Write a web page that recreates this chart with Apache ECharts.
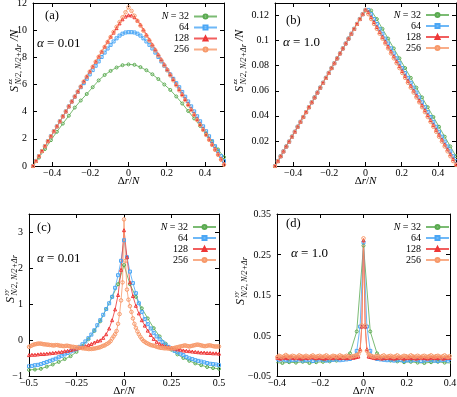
<!DOCTYPE html>
<html>
<head>
<meta charset="utf-8">
<script src="https://cdn.jsdelivr.net/npm/echarts@6/dist/echarts.min.js"></script>
<style>
  body { margin: 0; background: #fff; }
  .panel { position: absolute; }
  .tick { position: absolute; font: 10px "Liberation Serif", serif; line-height: 10px; color: #000;
          white-space: nowrap; transform: translate(-100%, -50%); z-index: 5; }
</style>
</head>
<body>
<div id="pa" class="panel" style="left:0;top:0;width:228px;height:198px"></div>
<div id="pb" class="panel" style="left:228px;top:0;width:229px;height:198px"></div>
<div id="pc" class="panel" style="left:0;top:198px;width:228px;height:199px"></div>
<div id="pd" class="panel" style="left:228px;top:198px;width:229px;height:199px"></div>
<script>
// series names and tick labels
const sizes = ['N = 32', '64', '128', '256'];
const xTicksAB = [-0.4, -0.2, 0, 0.2, 0.4];
const yTicksA = [0, 2, 4, 6, 8, 10, 12];
const yTicksB = [0.02, 0.04, 0.06, 0.08, 0.1, 0.12];
const xTicksC = [-0.5, -0.25, 0, 0.25, 0.5];
const yTicksC = [-1, 0, 1, 2, 3];
const xTicksD = [-0.4, -0.2, 0, 0.2, 0.4];
const yTicksD = [-0.05, 0.05, 0.15, 0.25, 0.35];

// (a) S^zz / N, alpha = 0.01  (values on a uniform grid from -0.5 to 0.5)
const aN32 = [0, 0.62, 1.25, 1.9, 2.52, 3.12, 3.7, 4.3, 4.82, 5.3, 5.8, 6.3, 6.7, 7.0, 7.25, 7.42, 7.48,
  7.45, 7.28, 7.05, 6.75, 6.4, 6.0, 5.6, 5.12, 4.6, 4.05, 3.5, 2.95, 2.4, 1.8, 1.22, 0.65];
const aN64 = [0, 0.37, 0.73, 1.1, 1.46, 1.83, 2.19, 2.56, 2.92, 3.29, 3.66, 4.02, 4.39, 4.75, 5.1, 5.45,
  5.8, 6.1, 6.42, 6.74, 7.06, 7.38, 7.7, 8.03, 8.35, 8.65, 8.92, 9.17, 9.4, 9.6, 9.74, 9.83, 9.85,
  9.85, 9.83, 9.74, 9.6, 9.4, 9.17, 8.92, 8.65, 8.35, 8.03, 7.7, 7.38, 7.06, 6.74, 6.42, 6.1,
  5.8, 5.45, 5.1, 4.75, 4.39, 4.02, 3.66, 3.29, 2.92, 2.56, 2.19, 1.83, 1.46, 1.1, 0.73, 0.37];
const aN128 = [0, 0.37, 0.73, 1.1, 1.46, 1.83, 2.19, 2.56, 2.92, 3.29, 3.66, 4.02, 4.39, 4.75, 5.12, 5.48,
  5.85, 6.22, 6.58, 6.95, 7.31, 7.68, 8.04, 8.41, 8.77, 9.14, 9.5, 9.82, 10.15, 10.5, 10.8, 11.0, 11.1,
  11.08, 10.95, 10.7, 10.42, 10.05, 9.68, 9.32, 8.95, 8.59, 8.22, 7.86, 7.49, 7.13, 6.76, 6.4, 6.03,
  5.66, 5.3, 4.93, 4.57, 4.2, 3.84, 3.47, 3.1, 2.74, 2.37, 2.01, 1.64, 1.28, 0.91, 0.55, 0.18];
const aN256 = [0, 0.37, 0.73, 1.1, 1.46, 1.83, 2.19, 2.56, 2.92, 3.29, 3.66, 4.02, 4.39, 4.75, 5.12, 5.48,
  5.85, 6.22, 6.58, 6.95, 7.31, 7.68, 8.04, 8.41, 8.77, 9.14, 9.5, 9.87, 10.24, 10.6, 10.95, 11.32, 11.68,
  11.42, 11.06, 10.69, 10.33, 9.96, 9.59, 9.23, 8.86, 8.5, 8.13, 7.77, 7.4, 7.04, 6.67, 6.31, 5.94,
  5.57, 5.21, 4.84, 4.48, 4.11, 3.75, 3.38, 3.01, 2.65, 2.28, 1.92, 1.55, 1.19, 0.82, 0.46, 0.09];

// (b) S^zz / N, alpha = 1.0
const bN32 = [0, 0.0078, 0.0156, 0.0234, 0.0313, 0.0391, 0.0469, 0.0547, 0.0625, 0.0703, 0.0781, 0.0859,
  0.0938, 0.1016, 0.1094, 0.1172, 0.124, 0.124, 0.1172, 0.1094, 0.1016, 0.0938, 0.0859, 0.0781, 0.0703,
  0.0625, 0.0547, 0.0469, 0.0391, 0.0313, 0.0234, 0.0156, 0.0078];
const bRise = [0, 0.0039, 0.0078, 0.0117, 0.0156, 0.0195, 0.0234, 0.0273, 0.0313, 0.0352, 0.0391, 0.043,
  0.0469, 0.0508, 0.0547, 0.0586, 0.0625, 0.0664, 0.0703, 0.0742, 0.0781, 0.082, 0.0859, 0.0898, 0.0938,
  0.0977, 0.1016, 0.1055, 0.1094, 0.1133, 0.1172, 0.1211, 0.1245];
const bFall64 = [0.1245, 0.1211, 0.1172, 0.1133, 0.1094, 0.1055, 0.1016, 0.0977, 0.0938, 0.0898, 0.0859,
  0.082, 0.0781, 0.0742, 0.0703, 0.0664, 0.0625, 0.0586, 0.0547, 0.0508, 0.0469, 0.043, 0.0391, 0.0352,
  0.0313, 0.0273, 0.0234, 0.0195, 0.0156, 0.0117, 0.0078, 0.0039];
const bFall128 = [0.1227, 0.1187, 0.1148, 0.1109, 0.107, 0.1031, 0.0992, 0.0953, 0.0914, 0.0875, 0.0836,
  0.0797, 0.0758, 0.0719, 0.068, 0.0641, 0.0602, 0.0563, 0.0523, 0.0484, 0.0445, 0.0406, 0.0367, 0.0328,
  0.0289, 0.025, 0.0211, 0.0172, 0.0133, 0.0094, 0.0055, 0.0016];
const bFall256 = [0.1211, 0.1172, 0.1133, 0.1094, 0.1055, 0.1016, 0.0977, 0.0938, 0.0898, 0.0859, 0.082,
  0.0781, 0.0742, 0.0703, 0.0664, 0.0625, 0.0586, 0.0547, 0.0508, 0.0469, 0.043, 0.0391, 0.0352, 0.0313,
  0.0273, 0.0234, 0.0195, 0.0156, 0.0117, 0.0078, 0.0039, 0.0008];

// (c) S^yy, alpha = 0.01
const cN32 = [-0.83, -0.82, -0.8, -0.74, -0.68, -0.61, -0.53, -0.45, -0.33, -0.17, 0.02, 0.25, 0.52, 0.86,
  1.2, 1.55, 2.08, 1.55, 1.2, 0.88, 0.6, 0.33, 0.1, -0.1, -0.27, -0.4, -0.5, -0.58, -0.65, -0.7, -0.75,
  -0.78, -0.8];
const cN64 = [-0.73, -0.72, -0.7, -0.69, -0.67, -0.64, -0.61, -0.58, -0.55, -0.52, -0.48, -0.44, -0.4,
  -0.36, -0.32, -0.29, -0.25, -0.19, -0.12, -0.04, 0.05, 0.15, 0.27, 0.41, 0.55, 0.7, 0.86, 1.02, 1.2,
  1.45, 1.8, 2.2, 2.77, 2.3, 1.9, 1.58, 1.3, 1.02, 0.78, 0.58, 0.44, 0.32, 0.2, 0.1, 0.02, -0.06, -0.13,
  -0.19, -0.25, -0.3, -0.34, -0.38, -0.42, -0.47, -0.51, -0.53, -0.56, -0.58, -0.6, -0.62, -0.64, -0.66,
  -0.67, -0.68, -0.7];
const cN128 = [-0.42, -0.41, -0.41, -0.4, -0.39, -0.39, -0.38, -0.37, -0.36, -0.35, -0.34, -0.33, -0.31,
  -0.3, -0.28, -0.26, -0.24, -0.22, -0.2, -0.17, -0.14, -0.11, -0.07, -0.03, -0.01, 0.06, 0.16, 0.32,
  0.55, 0.85, 1.25, 1.95, 3.05, 2.3, 1.6, 1.22, 0.95, 0.74, 0.55, 0.4, 0.26, 0.14, 0.03, -0.05, -0.11,
  -0.15, -0.18, -0.2, -0.22, -0.24, -0.26, -0.27, -0.29, -0.3, -0.31, -0.32, -0.33, -0.34, -0.35, -0.35,
  -0.36, -0.36, -0.37, -0.37, -0.38];
const cN256 = [-0.19, -0.17, -0.15, -0.13, -0.12, -0.11, -0.1, -0.1, -0.1, -0.11, -0.12, -0.12, -0.13, -0.13,
  -0.14, -0.14, -0.15, -0.15, -0.14, -0.14, -0.15, -0.16, -0.16, -0.17, -0.17, -0.16, -0.16, -0.17, -0.18,
  -0.19, -0.19, -0.2, -0.2, -0.21, -0.22, -0.22, -0.23, -0.23, -0.24, -0.24, -0.25, -0.25, -0.25, -0.24,
  -0.24, -0.23, -0.22, -0.21, -0.2, -0.18, -0.16, -0.15, -0.12, -0.1, -0.07, -0.03, 0.04, 0.1, 0.16, 0.25,
  0.45, 0.72, 1.1, 1.6, 3.35,
  2.2, 1.4, 1.12, 0.94, 0.78, 0.6, 0.45, 0.34, 0.24, 0.16, 0.09, 0.03, -0.02, -0.05, -0.08, -0.1,
  -0.12, -0.14, -0.15, -0.16, -0.17, -0.19, -0.2, -0.21, -0.22, -0.22, -0.23, -0.23, -0.23, -0.24, -0.24,
  -0.24, -0.23, -0.22, -0.21, -0.2, -0.19, -0.18, -0.17, -0.16, -0.15, -0.16, -0.17, -0.18, -0.17, -0.16,
  -0.15, -0.14, -0.13, -0.13, -0.14, -0.15, -0.16, -0.17, -0.17, -0.16, -0.15, -0.15, -0.16, -0.17, -0.18,
  -0.18, -0.18, -0.18];

// (d) S^yy, alpha = 1.0
const dN32 = [-0.016, -0.017, -0.015, -0.017, -0.018, -0.016, -0.017, -0.015, -0.018, -0.016, -0.015,
  -0.014, -0.012, -0.005, 0.006, 0.06, 0.272, 0.06, 0.006, -0.006, -0.012, -0.014, -0.016, -0.015, -0.017,
  -0.018, -0.016, -0.015, -0.017, -0.018, -0.016, -0.017, -0.016];
const dN64 = [-0.01, -0.011, -0.009, -0.012, -0.01, -0.011, -0.013, -0.01, -0.009, -0.011, -0.012, -0.01,
  -0.011, -0.009, -0.012, -0.011, -0.01, -0.013, -0.011, -0.009, -0.01, -0.012, -0.011, -0.01, -0.009,
  -0.011, -0.01, -0.009, -0.008, -0.004, 0.012, 0.072, 0.28, 0.072, 0.012, -0.004, -0.008, -0.009, -0.01,
  -0.011, -0.01, -0.012, -0.011, -0.01, -0.013, -0.011, -0.012, -0.01, -0.011, -0.013, -0.012, -0.01,
  -0.011, -0.012, -0.013, -0.011, -0.01, -0.012, -0.011, -0.013, -0.012, -0.011, -0.01, -0.012, -0.011];
const dN128 = [-0.005, -0.006, -0.004, -0.005, -0.007, -0.005, -0.004, -0.006, -0.005, -0.003, -0.005,
  -0.006, -0.004, -0.005, -0.006, -0.007, -0.005, -0.004, -0.005, -0.006, -0.004, -0.003, -0.005, -0.006,
  -0.005, -0.004, -0.006, -0.007, -0.005, -0.004, -0.005, -0.006, -0.005, -0.003, -0.004, -0.005, -0.006,
  -0.005, -0.004, -0.006, -0.005, -0.007, -0.006, -0.005, -0.004, -0.005, -0.006, -0.004, -0.003, -0.005,
  -0.006, -0.005, -0.004, -0.005, -0.006, -0.005, -0.004, -0.004, -0.005, -0.004, -0.003,
  -0.002, 0.016, 0.072, 0.285, 0.072, 0.016, -0.002,
  -0.003, -0.004, -0.005, -0.006, -0.005, -0.004, -0.006, -0.007, -0.005, -0.006, -0.005, -0.004, -0.006,
  -0.005, -0.007, -0.006, -0.005, -0.004, -0.005, -0.006, -0.007, -0.005, -0.006, -0.004, -0.005, -0.006,
  -0.005, -0.007, -0.006, -0.005, -0.004, -0.006, -0.005, -0.006, -0.007, -0.005, -0.004, -0.005, -0.006,
  -0.005, -0.006, -0.004, -0.005, -0.007, -0.006, -0.005, -0.004, -0.005, -0.006, -0.005, -0.004, -0.006,
  -0.005, -0.006, -0.005, -0.004, -0.005, -0.006, -0.005, -0.004, -0.005];
const dN256 = [-0.002, 0, -0.003, -0.001, 0.001, -0.002, -0.004, -0.001, 0, -0.003, -0.002, 0.001, -0.001,
  -0.003, 0, -0.002, -0.004, -0.001, 0.002, -0.001, -0.003, -0.002, 0, -0.001, -0.004, -0.002, 0.001,
  -0.001, -0.003, -0.002, 0, -0.002, -0.004, -0.001, 0.001, -0.002, -0.003, -0.001, 0, -0.002, -0.003,
  -0.001, 0.001, -0.002, -0.004, -0.002, 0, -0.001, -0.003, -0.002, 0.001, -0.001, -0.003, -0.002, 0,
  -0.001, -0.003, -0.002, -0.001, 0, 0.002,
  0.004, 0.012, 0.075, 0.29, 0.075, 0.012, 0.004,
  0.001, -0.001, -0.003, -0.002, 0, -0.002, -0.004, -0.001, 0.001, -0.002, -0.003, -0.001, 0, -0.002,
  -0.003, -0.001, 0.001, -0.002, -0.004, -0.002, 0, -0.001, -0.003, -0.002, 0.001, -0.001, -0.003, -0.002,
  0, -0.002, -0.004, -0.001, 0, -0.002, -0.003, -0.001, 0.001, -0.002, -0.003, -0.001, 0, -0.002, -0.004,
  -0.001, 0.001, -0.002, -0.003, -0.001, 0, -0.002, -0.003, -0.001, 0.001, -0.002, -0.004, -0.002, 0,
  -0.001, -0.003, -0.002, -0.001];

const SERIF = 'Liberation Serif';
const FONT = '"Liberation Serif", serif';
const looks = [
  { color: '#5aaa50', symbol: 'circle' },
  { color: '#4aa6f5', symbol: 'rect' },
  { color: '#ee3636', symbol: 'triangle' },
  { color: '#f7996a', symbol: 'circle' }
];

// values sit on an even grid over dr/N in [-0.5, 0.5]
function pts(vals) {
  const step = 1 / (vals.length - 1);
  return vals.map((v, i) => [-0.5 + i * step, v]);
}

function fmt(v) {
  return String(+(+v).toFixed(4)).replace('-', '\u2212');
}

function axis(dim, range, ticks, main, labels) {
  const a = {
    type: 'value',
    min: range[0],
    max: range[1],
    position: dim === 'x' ? (main ? 'bottom' : 'top') : (main ? 'left' : 'right'),
    axisLine: { show: true, onZero: false, lineStyle: { color: '#000', width: 1 } },
    axisTick: { show: true, inside: true, length: 4, customValues: ticks, lineStyle: { color: '#000' } },
    axisLabel: {
      show: main && labels, customValues: ticks, formatter: fmt, color: '#000', hideOverlap: false,
      fontFamily: SERIF, fontSize: 10, margin: dim === 'x' ? 2 : 6
    },
    splitLine: { show: false }
  };
  if (dim === 'x' && main) {
    a.name = '{n|\u0394}{i|r}/{i|N}';
    a.nameLocation = 'middle';
    a.nameGap = 10;
    a.nameMoveOverlap = false;
    a.nameTextStyle = {
      color: '#000', fontFamily: SERIF, fontSize: 11,
      rich: {
        n: { color: '#000', fontFamily: SERIF, fontSize: 11 },
        i: { color: '#000', fontFamily: SERIF, fontSize: 11, fontStyle: 'italic' }
      }
    };
  }
  return a;
}

function line(name, vals, k) {
  const lk = looks[k];
  return {
    name: name,
    type: 'line',
    data: pts(vals),
    symbol: lk.symbol,
    symbolSize: k === 3 ? 3.5 : 3,
    clip: true,
    lineStyle: { color: lk.color, width: 1, opacity: 0.8 },
    itemStyle: { color: 'rgba(255,255,255,0)', borderColor: lk.color, borderWidth: 1 },
    emphasis: { disabled: true }
  };
}

// rotated y title: S with stacked super/subscript, each piece its own rotated text
function yTitle(x, y, sup, withN) {
  const r = Math.PI / 2;
  const piece = (dx, dy, text, font) => ({
    type: 'text', x: x + dy, y: y - dx, rotation: r, silent: true,
    style: { text: text, font: font, fill: '#000', verticalAlign: 'middle', textVerticalAlign: 'middle' }
  });
  const out = [
    piece(0, 0, 'S', 'italic 12px ' + FONT),
    piece(7.5, -5, sup, 'italic 7px ' + FONT),
    piece(7.5, 3.5, 'N/2, N/2+\u0394r', 'italic 8px ' + FONT)
  ];
  if (withN) out.push(piece(51, 0, '/N', 'italic 12px ' + FONT));
  return out;
}

function note(x, y, txt) {
  return {
    type: 'text', x: x, y: y, silent: true,
    style: {
      text: txt, font: '12.5px ' + FONT, fill: '#000', verticalAlign: 'middle', textVerticalAlign: 'middle',
      rich: { i: { fontStyle: 'italic', fontFamily: SERIF, fontSize: 13 }, r: { fontFamily: SERIF, fontSize: 13 } }
    }
  };
}

function panel(id, o) {
  const el = document.getElementById(id);
  const chart = echarts.init(el);
  const grid = Object.assign({ outerBoundsMode: 'none', containLabel: false }, o.grid);
  const ownY = !o.htmlY;
  chart.setOption({
    animation: false,
    textStyle: { fontFamily: SERIF },
    grid: grid,
    xAxis: [axis('x', o.xr, o.xt, true, true), axis('x', o.xr, o.xt, false, false)],
    yAxis: [axis('y', o.yr, o.yt, true, ownY), axis('y', o.yr, o.yt, false, false)],
    legend: {
      orient: 'vertical', right: o.legend[0], top: o.legend[1], align: 'right', padding: 0,
      itemWidth: 23, itemHeight: 5, itemGap: 1, selectedMode: false,
      data: sizes,
      formatter: n => n === sizes[0] ? '{i|N} = 32' : n,
      textStyle: {
        color: '#000', fontFamily: SERIF, fontSize: 10, lineHeight: 10,
        rich: { i: { fontStyle: 'italic', fontFamily: SERIF, fontSize: 10, lineHeight: 10 } }
      }
    },
    graphic: o.graphic,
    series: o.data.map((v, i) => line(sizes[i], v, i))
  });
  if (o.htmlY) {
    // y tick labels as page text, placed through the chart's own scale
    o.yt.forEach(v => {
      const p = chart.convertToPixel({ gridIndex: 0 }, [o.xr[0], v]);
      const d = document.createElement('div');
      d.className = 'tick';
      d.textContent = fmt(v);
      d.style.left = (el.offsetLeft + p[0] - 6) + 'px';
      d.style.top = (el.offsetTop + p[1]) + 'px';
      document.body.appendChild(d);
    });
  }
  return chart;
}

panel('pa', {
  grid: { left: 33, top: 3, width: 191, height: 163 },
  xr: [-0.5, 0.5], xt: xTicksAB, yr: [0, 12], yt: yTicksA,
  legend: [10, 11.5],
  data: [aN32, aN64, aN128, aN256],
  graphic: [note(45, 16, '(a)'), note(37, 44, '{i|\u03b1}{r| = 0.01}')].concat(yTitle(15, 92, 'zz', true))
});
panel('pb', {
  grid: { left: 47, top: 3, width: 181, height: 163 },
  xr: [-0.5, 0.5], xt: xTicksAB, yr: [0, 0.13], yt: yTicksB,
  legend: [7, 10],
  data: [bN32, bRise.concat(bFall64), bRise.concat(bFall128), bRise.concat(bFall256)],
  graphic: [note(58, 21, '(b)'), note(55, 43, '{i|\u03b1}{r| = 1.0}')].concat(yTitle(12, 92, 'zz', true))
});
panel('pc', {
  grid: { left: 29, top: 16, width: 190, height: 162 },
  xr: [-0.5, 0.5], xt: xTicksC, yr: [-1, 3.5], yt: yTicksC,
  legend: [11, 24],
  data: [cN32, cN64, cN128, cN256],
  graphic: [note(37, 30, '(c)'), note(37, 61, '{i|\u03b1}{r| = 0.01}')].concat(yTitle(11, 105, 'yy', false))
});
panel('pd', {
  grid: { left: 49, top: 16, width: 173, height: 162 },
  xr: [-0.4, 0.4], xt: xTicksD, yr: [-0.05, 0.35], yt: yTicksD, htmlY: true,
  legend: [7, 24],
  data: [dN32, dN64, dN128, dN256],
  graphic: [note(58, 26, '(d)'), note(63, 56, '{i|\u03b1}{r| = 1.0}')].concat(yTitle(13, 107, 'yy', false))
});
</script>
</body>
</html>
